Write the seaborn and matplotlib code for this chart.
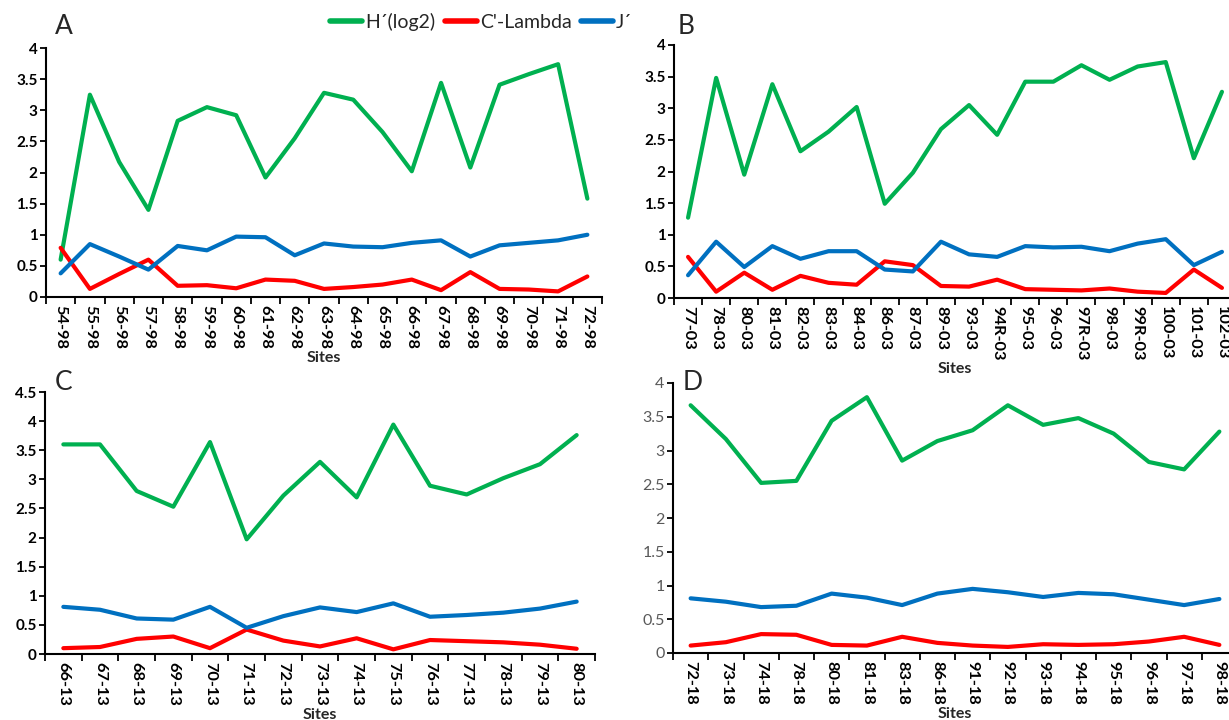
import numpy as np
import pandas as pd
import matplotlib
matplotlib.use("Agg")
import matplotlib.pyplot as plt
from matplotlib.lines import Line2D
import seaborn as sns

sns.set_theme(style="white")
plt.rcParams['font.family'] = ['Lato', 'DejaVu Sans']

# ---------------- data ----------------
sites_a = ["54-98", "55-98", "56-98", "57-98", "58-98", "59-98", "60-98", "61-98", "62-98", "63-98",
           "64-98", "65-98", "66-98", "67-98", "68-98", "69-98", "70-98", "71-98", "72-98"]
h_a = [0.6, 3.25, 2.17, 1.4, 2.83, 3.05, 2.92, 1.92, 2.55, 3.28, 3.17, 2.65, 2.02, 3.44, 2.08, 3.41, 3.58, 3.74, 1.58]
c_a = [0.79, 0.13, 0.37, 0.6, 0.18, 0.19, 0.14, 0.28, 0.26, 0.13, 0.16, 0.2, 0.28, 0.11, 0.4, 0.13, 0.12, 0.09, 0.33]
j_a = [0.38, 0.85, 0.65, 0.44, 0.82, 0.75, 0.97, 0.96, 0.67, 0.86, 0.81, 0.80, 0.87, 0.91, 0.65, 0.83, 0.87, 0.91, 1.0]

sites_b = ["77-03", "78-03", "80-03", "81-03", "82-03", "83-03", "84-03", "86-03", "87-03", "89-03",
           "93-03", "94R-03", "95-03", "96-03", "97R-03", "98-03", "99R-03", "100-03", "101-03", "102-03"]
h_b = [1.27, 3.48, 1.95, 3.38, 2.32, 2.63, 3.02, 1.49, 1.98, 2.67, 3.05, 2.58, 3.42, 3.42, 3.68, 3.45, 3.66, 3.73, 2.21, 3.26]
c_b = [0.65, 0.1, 0.4, 0.13, 0.35, 0.24, 0.21, 0.58, 0.52, 0.19, 0.18, 0.29, 0.14, 0.13, 0.12, 0.15, 0.1, 0.08, 0.45, 0.16]
j_b = [0.36, 0.89, 0.49, 0.82, 0.62, 0.74, 0.74, 0.45, 0.42, 0.89, 0.69, 0.65, 0.82, 0.8, 0.81, 0.74, 0.86, 0.93, 0.52, 0.73]

sites_c = ["66-13", "67-13", "68-13", "69-13", "70-13", "71-13", "72-13", "73-13", "74-13", "75-13",
           "76-13", "77-13", "78-13", "79-13", "80-13"]
h_c = [3.6, 3.6, 2.8, 2.53, 3.64, 1.97, 2.72, 3.3, 2.69, 3.94, 2.89, 2.74, 3.02, 3.26, 3.76]
c_c = [0.1, 0.12, 0.26, 0.3, 0.1, 0.42, 0.23, 0.13, 0.27, 0.08, 0.24, 0.22, 0.2, 0.16, 0.09]
j_c = [0.81, 0.76, 0.61, 0.59, 0.81, 0.45, 0.65, 0.8, 0.72, 0.87, 0.64, 0.67, 0.71, 0.78, 0.9]

sites_d = ["72-18", "73-18", "74-18", "78-18", "80-18", "81-18", "83-18", "86-18", "91-18", "92-18",
           "93-18", "94-18", "95-18", "96-18", "97-18", "98-18"]
h_d = [3.67, 3.17, 2.52, 2.55, 3.44, 3.79, 2.85, 3.14, 3.3, 3.67, 3.38, 3.48, 3.25, 2.83, 2.72, 3.28]
c_d = [0.11, 0.16, 0.28, 0.27, 0.12, 0.11, 0.24, 0.15, 0.11, 0.09, 0.13, 0.12, 0.13, 0.17, 0.24, 0.12]
j_d = [0.81, 0.76, 0.68, 0.7, 0.88, 0.82, 0.71, 0.88, 0.95, 0.9, 0.83, 0.89, 0.87, 0.79, 0.71, 0.8]

series_names = ["H\u00b4(log2)", "C'-Lambda", "J\u00b4"]
colors = {"H\u00b4(log2)": "#00B050", "C'-Lambda": "#FF0000", "J\u00b4": "#0070C0"}

panels = [
    ("A", sites_a, h_a, c_a, j_a, 4.0, [46, 602, 48, 297], True),
    ("B", sites_b, h_b, c_b, j_b, 4.0, [674, 1236, 45, 298], True),
    ("C", sites_c, h_c, c_c, j_c, 4.5, [45, 595, 392, 654], True),
    ("D", sites_d, h_d, c_d, j_d, 4.0, [673, 1237, 383, 653], False),
]
label_pos = {"A": (55, 27), "B": (678, 27), "C": (55, 383), "D": (683, 383)}

W, H = 1229, 720
fig = plt.figure(figsize=(W / 100, H / 100), dpi=100)

for label, sites, hv, cv, jv, ymax, (x0, x1, yt, yb), bold_y in panels:
    ax = fig.add_axes([x0 / W, 1 - yb / H, (x1 - x0) / W, (yb - yt) / H])
    df = pd.DataFrame({
        "Site": sites * 3,
        "Value": list(hv) + list(cv) + list(jv),
        "Index": [series_names[0]] * len(sites) + [series_names[1]] * len(sites) + [series_names[2]] * len(sites),
    })
    sns.lineplot(data=df, x="Site", y="Value", hue="Index", palette=colors,
                 hue_order=series_names, sort=False, linewidth=3.0, ax=ax, legend=False)
    n = len(sites)
    ax.set_xlim(-0.5, n - 0.5)
    ax.set_ylim(0, ymax)
    ax.set_yticks(np.arange(0, ymax + 0.01, 0.5))
    ax.set_yticklabels([f"{v:g}" for v in np.arange(0, ymax + 0.01, 0.5)])
    ax.set_xticks(range(n))
    ax.set_xticklabels(sites, rotation=270, fontsize=11.8, fontweight="bold", color="black")
    ax.set_xticks(np.arange(-0.5, n), minor=True)
    ax.tick_params(axis="x", which="major", length=0, pad=6)
    ax.tick_params(axis="x", which="minor", length=5, width=1.3, color="black", direction="out", bottom=True)
    ax.tick_params(axis="y", which="major", length=4, width=1.3, color="black", direction="out", left=True, pad=2)
    if bold_y:
        for t in ax.get_yticklabels():
            t.set_fontweight("bold"); t.set_fontsize(11); t.set_color("black")
    else:
        for t in ax.get_yticklabels():
            t.set_fontsize(11.5); t.set_color("#595959")
    ax.set_xlabel("Sites", fontsize=11.5, fontweight="bold", labelpad=1)
    ax.set_ylabel("")
    for s in ["top", "right"]:
        ax.spines[s].set_visible(False)
    for s in ["left", "bottom"]:
        ax.spines[s].set_color("black")
        ax.spines[s].set_linewidth(1.5)
    ax.grid(False)
    lx, ly = label_pos[label]
    fig.text(lx / W, 1 - ly / H, label, fontsize=19, ha="left", va="center")

handles = [Line2D([0], [0], color=colors[s], lw=4) for s in series_names]
fig.legend(handles, series_names, loc="center", bbox_to_anchor=(481 / W, 1 - 22 / H), ncol=3,
           frameon=False, fontsize=14, handlelength=1.65, handletextpad=0.15, columnspacing=0.5)

fig.savefig("out.png", dpi=100)
